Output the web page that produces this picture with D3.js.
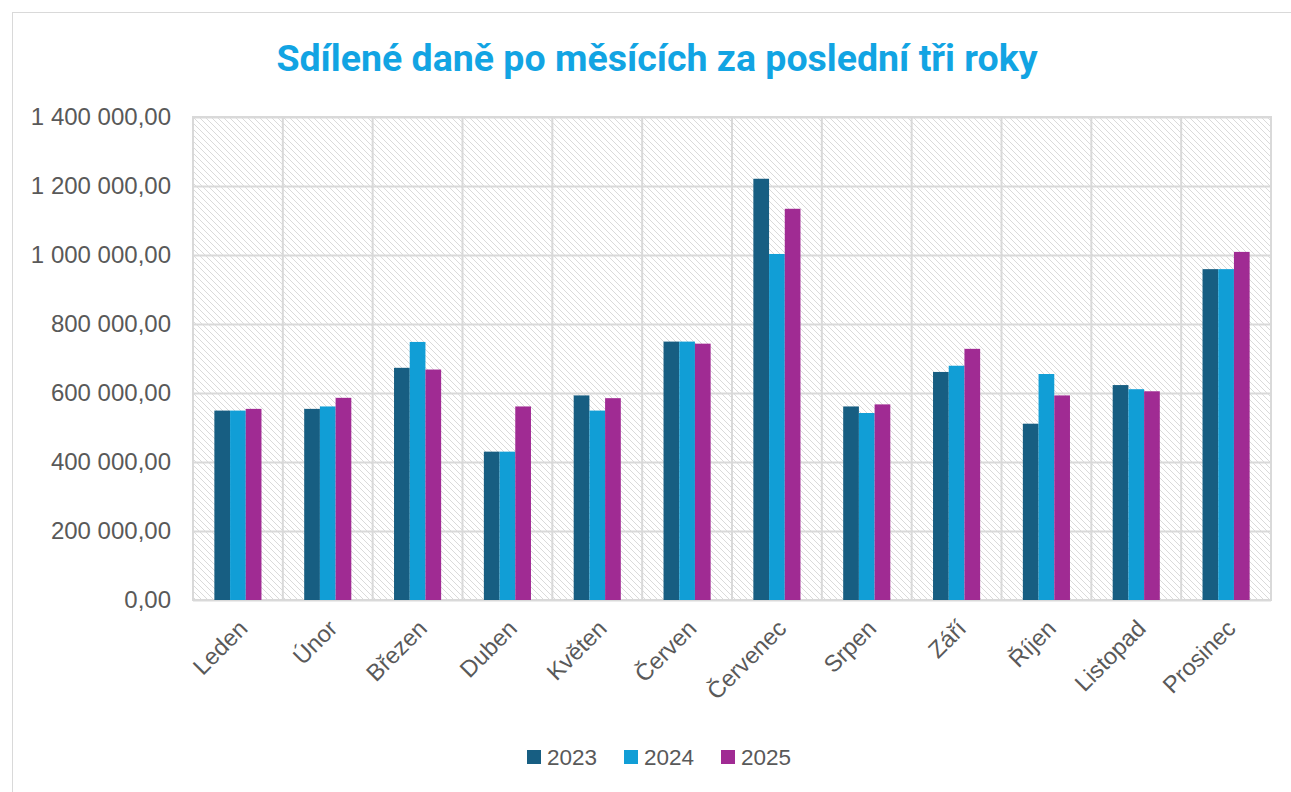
<!DOCTYPE html>
<html>
<head>
<meta charset="utf-8">
<script src="https://cdn.jsdelivr.net/npm/d3@7"></script>
<style>
  body { margin: 0; background: #fff; }
  svg { display: block; }
  text { font-family: "Liberation Sans", Arial, sans-serif; }
</style>
</head>
<body>
<svg id="chart" width="1291" height="792"></svg>
<script>
// monthly shared taxes, three years
const months = ["Leden", "Únor", "Březen", "Duben", "Květen", "Červen",
  "Červenec", "Srpen", "Září", "Říjen", "Listopad", "Prosinec"];
const years = ["2023", "2024", "2025"];
const values2023 = [549000, 554000, 673000, 430000, 593000, 749000, 1221000, 561000, 661000, 511000, 623000, 959000];
const values2024 = [549000, 561000, 748000, 430000, 549000, 749000, 1003000, 542000, 679000, 655000, 611000, 959000];
const values2025 = [554000, 586000, 668000, 561000, 585000, 743000, 1134000, 567000, 728000, 593000, 605000, 1009000];
const yTicks = [0, 200000, 400000, 600000, 800000, 1000000, 1200000, 1400000];
const colors = ["#175e82", "#119ed6", "#a02b93"];

const series = [values2023, values2024, values2025];
const rows = months.map((m, i) => ({
  month: m,
  vals: years.map((y, j) => ({ year: y, value: series[j][i], color: colors[j] }))
}));

const svg = d3.select("#chart");
const margin = { left: 193, right: 20, top: 117, bottom: 192 };
const width = 1291 - margin.left - margin.right;
const height = 792 - margin.top - margin.bottom;

const czLocale = d3.formatLocale({ decimal: ",", thousands: "\u00a0", grouping: [3], currency: ["", " Kč"] });
const fmt = czLocale.format(",.2f");

// outer chart frame
svg.append("rect")
  .attr("x", 12.5).attr("y", 12.5)
  .attr("width", 1300).attr("height", 800)
  .attr("fill", "#fff").attr("stroke", "#d9d9d9");

// hatch pattern for plot background
const defs = svg.append("defs");
defs.append("pattern")
  .attr("id", "hatch")
  .attr("patternUnits", "userSpaceOnUse")
  .attr("width", 6).attr("height", 6)
  .append("path")
  .attr("d", "M-1,-1 L7,7 M5,-1 L7,1 M-1,5 L1,7")
  .attr("stroke", "#dadada")
  .attr("stroke-width", 1);

svg.append("text")
  .attr("x", 657).attr("y", 71)
  .attr("text-anchor", "middle")
  .attr("fill", "#12a4e3")
  .style("font-family", "Roboto, sans-serif")
  .style("font-weight", "bold")
  .style("font-size", "37.5px")
  .text("Sdílené daně po měsících za poslední tři roky");

const g = svg.append("g").attr("transform", `translate(${margin.left},${margin.top})`);

const x = d3.scaleBand().domain(months).range([0, width]).paddingInner(0).paddingOuter(0);
const x1 = d3.scaleBand().domain(years).range([0, x.bandwidth()]).paddingInner(0).paddingOuter(1.36);
const y = d3.scaleLinear().domain([0, 1400000]).range([height, 0]);

g.append("rect")
  .attr("width", width).attr("height", height)
  .attr("fill", "url(#hatch)");

// horizontal gridlines
g.append("g")
  .call(d3.axisLeft(y).tickValues(yTicks).tickSize(-width).tickFormat(""))
  .call(a => a.select(".domain").remove())
  .call(a => a.selectAll("line").attr("stroke", "#d9d9d9").attr("stroke-width", 2));

// vertical gridlines at category boundaries
g.append("g")
  .selectAll("line")
  .data(months.slice(1))
  .join("line")
  .attr("x1", d => x(d)).attr("x2", d => x(d))
  .attr("y1", 0).attr("y2", height)
  .attr("stroke", "#d9d9d9").attr("stroke-width", 2);

g.append("rect")
  .attr("width", width).attr("height", height)
  .attr("fill", "none").attr("stroke", "#d9d9d9").attr("stroke-width", 2);

// bars
g.append("g")
  .selectAll("g")
  .data(rows)
  .join("g")
  .attr("transform", d => `translate(${x(d.month)},0)`)
  .selectAll("rect")
  .data(d => d.vals)
  .join("rect")
  .attr("x", d => x1(d.year))
  .attr("width", x1.bandwidth())
  .attr("y", d => y(d.value))
  .attr("height", d => y(0) - y(d.value))
  .attr("fill", d => d.color);

// y axis labels
g.append("g")
  .call(d3.axisLeft(y).tickValues(yTicks).tickSize(0).tickPadding(22).tickFormat(fmt))
  .call(a => a.select(".domain").remove())
  .call(a => a.selectAll("text")
    .attr("fill", "#595959")
    .style("font-size", "24px")
    .style("font-family", "'Liberation Sans', Arial, sans-serif"));

// x axis labels, rotated
g.append("g")
  .attr("transform", `translate(0,${height})`)
  .call(d3.axisBottom(x).tickSize(0).tickFormat(d => d))
  .call(a => a.select(".domain").remove())
  .call(a => a.selectAll("text")
    .attr("fill", "#595959")
    .style("font-size", "23.5px")
    .style("font-family", "'Liberation Sans', Arial, sans-serif")
    .attr("text-anchor", "end")
    .attr("dy", "0")
    .attr("y", 0)
    .attr("transform", "translate(11,30) rotate(-45)"));

// legend
const legend = svg.append("g").attr("transform", "translate(527,750)");
const legendX = [0, 97, 194];
years.forEach((yr, i) => {
  const item = legend.append("g").attr("transform", `translate(${legendX[i]},0)`);
  item.append("rect").attr("width", 14).attr("height", 14).attr("fill", colors[i]);
  item.append("text")
    .attr("x", 20).attr("y", 15)
    .attr("fill", "#595959")
    .style("font-size", "22.5px")
    .text(yr);
});
</script>
</body>
</html>
